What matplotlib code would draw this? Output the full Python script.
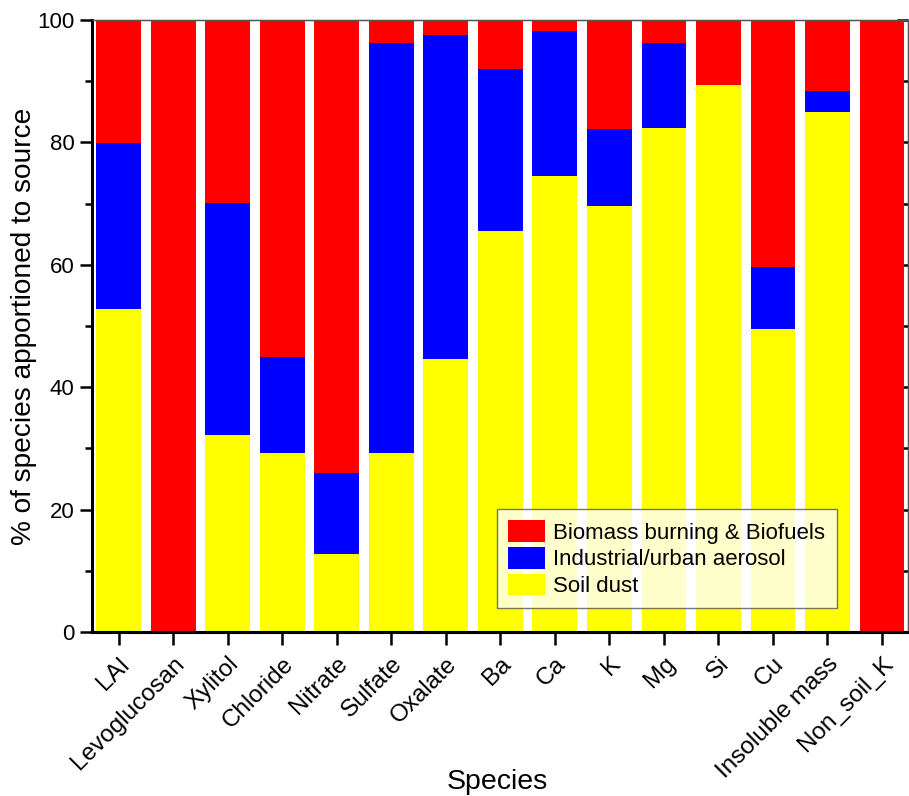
import matplotlib
matplotlib.use("Agg")
import matplotlib.pyplot as plt
import numpy as np
from matplotlib.ticker import MultipleLocator

species = ["LAI", "Levoglucosan", "Xylitol", "Chloride", "Nitrate", "Sulfate", "Oxalate",
           "Ba", "Ca", "K", "Mg", "Si", "Cu", "Insoluble mass", "Non_soil_K"]
soil_dust = [52.7, 0, 32.2, 29.2, 12.7, 29.2, 44.6, 65.5, 74.5, 69.6, 82.3, 89.3, 49.5, 85.0, 0]
industrial = [27.2, 0, 37.9, 15.7, 13.3, 67.0, 53.0, 26.5, 23.7, 12.5, 14.0, 0, 10.1, 3.4, 0]
biomass = [100 - s - i for s, i in zip(soil_dust, industrial)]

plt.rcParams['font.family'] = ['Liberation Sans', 'DejaVu Sans']

fig = plt.figure(figsize=(9.09, 7.96), dpi=100)
ax = fig.add_axes([0.1012, 0.206, 0.8978, 0.769])

x = np.arange(len(species))
w = 0.82
b1 = ax.bar(x, soil_dust, w, color='#ffff00', label='Soil dust')
b2 = ax.bar(x, industrial, w, bottom=soil_dust, color='#0000ff', label='Industrial/urban aerosol')
bottom2 = [s + i for s, i in zip(soil_dust, industrial)]
b3 = ax.bar(x, biomass, w, bottom=bottom2, color='#ff0000', label='Biomass burning & Biofuels')

ax.set_xlim(-0.49, 14.48)
ax.set_ylim(0, 100)
ax.set_xticks(x)
ax.set_xticklabels(species, rotation=45, ha='right', rotation_mode='anchor', fontsize=17.5)
ax.yaxis.set_major_locator(MultipleLocator(20))
ax.yaxis.set_minor_locator(MultipleLocator(10))
ax.tick_params(axis='y', which='major', direction='out', length=9, width=1.8, labelsize=16)
ax.tick_params(axis='y', which='minor', direction='out', length=5, width=1.8)
ax.tick_params(axis='x', which='major', direction='out', length=9, width=1.8, pad=6)
for sp in ['left', 'bottom']:
    ax.spines[sp].set_linewidth(2.2)
    ax.spines[sp].set_color('black')
for sp in ['top', 'right']:
    ax.spines[sp].set_linewidth(1.0)
    ax.spines[sp].set_color('#555555')

# inward ticks on top and right
ax2 = ax.secondary_xaxis('top')
ax2.set_xticks(x)
ax2.set_xticklabels([])
ax2.tick_params(direction='in', length=8, width=1.8)
ax3 = ax.secondary_yaxis('right')
ax3.yaxis.set_major_locator(MultipleLocator(20))
ax3.yaxis.set_minor_locator(MultipleLocator(10))
ax3.set_yticklabels([])
ax3.tick_params(which='major', direction='in', length=8, width=1.8)
ax3.tick_params(which='minor', direction='in', length=5, width=1.8)

ax.set_ylabel('% of species apportioned to source', fontsize=20.2, labelpad=0.5)
ax.set_xlabel('Species', fontsize=20.5)
ax.xaxis.set_label_coords(0.497, -0.224)

leg = ax.legend(handles=[b3, b2, b1], loc='lower left', bbox_to_anchor=(0.496, 0.039),
                fontsize=16, frameon=True, fancybox=False, edgecolor='#555555',
                handlelength=1.67, handleheight=1.12, labelspacing=0.15, borderpad=0.5,
                handletextpad=0.38, borderaxespad=0)
leg.get_frame().set_linewidth(1.0)

fig.savefig('out.png', dpi=100)
